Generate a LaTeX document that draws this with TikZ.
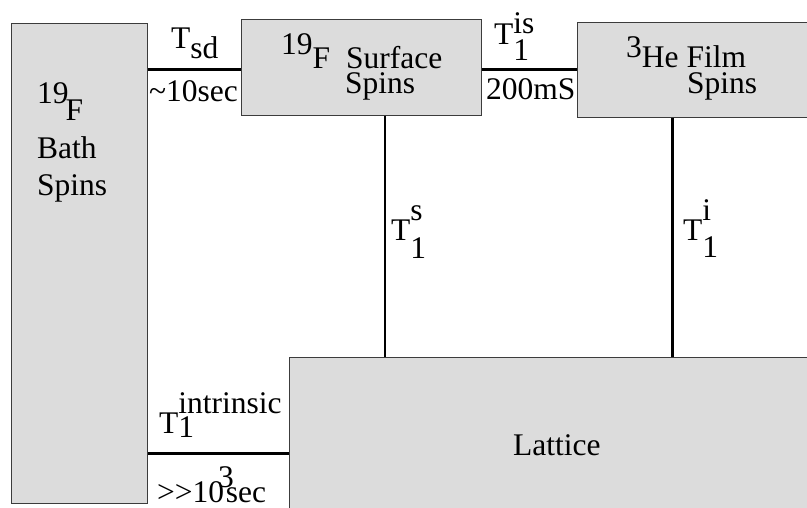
\documentclass[tikz,border=0pt]{standalone}
\usepackage{fontspec}
\setmainfont{Liberation Serif}
\definecolor{boxfill}{RGB}{220,220,220}
\definecolor{boxline}{RGB}{60,60,60}
\tikzset{
  box/.style={draw=boxline, line width=1pt, fill=boxfill, inner sep=0pt, rectangle},
  link/.style={draw=black, line width=2.5pt},
  lbl/.style={anchor=base west, inner sep=0pt, font=\fontsize{31.5}{32}\selectfont}
}
\begin{document}
\begin{tikzpicture}[x=1pt,y=-1pt]
\useasboundingbox (0,0) rectangle (807,507);
% boxes
\node[box, minimum width=136pt, minimum height=480pt] (bath) at (79,263) {};
\node[box, minimum width=240pt, minimum height=96pt] (surface) at (361,67) {};
\node[box, minimum width=233pt, minimum height=95pt] (he) at (693.5,69.5) {};
\node[box, minimum width=521pt, minimum height=153pt] (lattice) at (549.5,433.5) {};
% connectors
\draw[link] ([yshift=-2.5pt]surface.west) -- ([yshift=-2.5pt]surface.west -| bath.east);
\draw[link] (he.west -| surface.east) -- (he.west);
\draw[link] ([xshift=24pt]surface.south) -- ([xshift=24pt]surface.south |- lattice.north);
\draw[link] ([xshift=-20.8pt]he.south) -- ([xshift=-20.8pt]he.south |- lattice.north);
\draw[link] ([yshift=-20.2pt]lattice.west) -- ([yshift=-20.2pt]lattice.west -| bath.east);
% box texts
\node[lbl] (bath19) at (37,120) {\raisebox{17pt}{19}\kern-3ptF};
\node[lbl] (bathB) at (37,158.3) {Bath};
\node[lbl] (bathS) at (37,195.5) {Spins};
\node[lbl] (surf19) at (281,68) {\raisebox{14pt}{19}F};
\node[lbl] (surfS) at (346,68) {Surface};
\node[lbl] (surfSp) at (345,93) {Spins};
\node[lbl] (he3) at (626,67) {\raisebox{10pt}{3}He Film};
\node[lbl] (heSp) at (687,93) {Spins};
\node[lbl] (latt) at (513,455) {Lattice};
% connector labels
\node[lbl] (tsd) at (171,48) {T\raisebox{-10pt}{sd}};
\node[lbl] (tsdv) at (149,101.5) {\textasciitilde10sec};
\node[lbl] (tis) at (494,44) {T\rlap{\raisebox{11pt}{is}}\raisebox{-16pt}{1}};
\node[lbl] (tisv) at (486,99.5) {200mS};
\node[lbl] (ts) at (391,240) {T\rlap{\raisebox{20pt}{s}}\raisebox{-18pt}{1}};
\node[lbl] (ti) at (683,240) {T\rlap{\raisebox{20pt}{i}}\raisebox{-17pt}{1}};
\node[lbl] (tint) at (159,433) {T\rlap{\raisebox{20pt}{intrinsic}}\raisebox{-4pt}{1}};
\node[lbl] (tintv) at (157,502) {>{}>10\kern-6pt\raisebox{15pt}{3}\kern-8ptsec};
\end{tikzpicture}
\end{document}
